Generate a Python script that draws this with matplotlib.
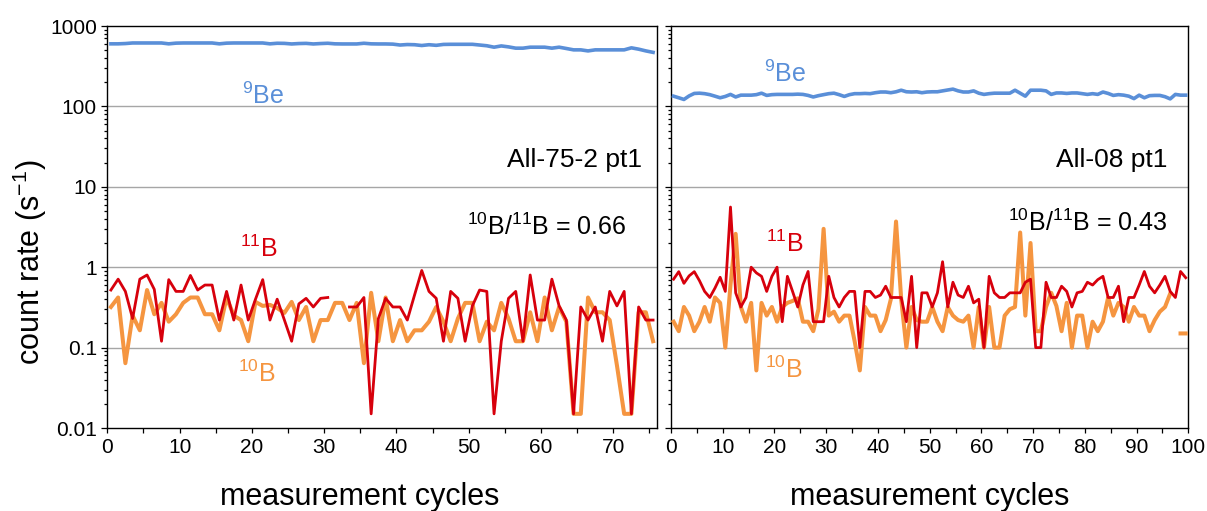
import numpy as np
import matplotlib
matplotlib.use("Agg")
import matplotlib.pyplot as plt
from matplotlib.ticker import LogLocator, FuncFormatter, MultipleLocator

plt.rcParams['font.family'] = ['Liberation Sans', 'DejaVu Sans']
plt.rcParams['mathtext.fontset'] = 'custom'
plt.rcParams['mathtext.rm'] = 'Liberation Sans'
plt.rcParams['mathtext.it'] = 'Liberation Sans'

# ---- data: All-75-2 pt1 (left panel) ----
be9_a = [600, 600, 605, 615, 615, 615, 615, 615, 600, 612,
         615, 615, 615, 615, 615, 600, 612, 615, 615, 615,
         615, 615, 600, 610, 608, 598, 605, 608, 598, 605,
         610, 600, 598, 598, 598, 610, 600, 598, 598, 595,
         580, 588, 585, 572, 585, 575, 590, 592, 592, 592,
         592, 580, 568, 545, 565, 550, 530, 530, 545, 545,
         545, 530, 545, 525, 505, 505, 490, 505, 505, 505,
         505, 505, 535, 515, 490, 470]
b11_a = [0.52, 0.71, 0.50, 0.23, 0.71, 0.80, 0.53, 0.12, 0.70, 0.50,
         0.50, 0.79, 0.52, 0.60, 0.60, 0.22, 0.50, 0.22, 0.60, 0.22,
         0.40, 0.70, 0.22, 0.40, 0.22, 0.12, 0.35,
         0.41, 0.32, 0.41, 0.42, np.nan, np.nan, 0.32, 0.32, 0.42,
         0.015, 0.23, 0.41, 0.32, 0.32, 0.22, 0.45, 0.91, 0.50, 0.41,
         0.12, 0.50, 0.41, 0.12, 0.33, 0.52, 0.50,
         0.015, 0.12, 0.41, 0.50, 0.12, 0.80, 0.22, 0.22, 0.71, 0.33,
         0.22, 0.015, 0.32, 0.22, 0.32, 0.12, 0.50, 0.33, 0.50, 0.015,
         0.32, 0.22, 0.22]
b10_a = [0.32, 0.42, 0.064, 0.25, 0.164, 0.52, 0.26, 0.36, 0.21, 0.26,
         0.36, 0.42, 0.42, 0.26, 0.26, 0.164, 0.42, 0.25, 0.22, 0.12,
         0.37, 0.33, 0.34, 0.31, 0.27, 0.37, 0.22,
         0.32, 0.12, 0.22, 0.22, 0.36, 0.36, 0.22, 0.36, 0.064, 0.48,
         0.12, 0.42, 0.12, 0.22, 0.12, 0.164, 0.164, 0.21, 0.32, 0.21,
         0.12, 0.23, 0.36, 0.36, 0.12, 0.21,
         0.164, 0.36, 0.23, 0.12, 0.12, 0.275, 0.12, 0.42, 0.164, 0.32,
         0.21, 0.015, 0.015, 0.42, 0.275, 0.275, 0.22, 0.06, 0.015, 0.015,
         0.275, 0.275, 0.12]

# ---- data: All-08 pt1 (right panel) ----
be9_b = [134, 128, 122, 135, 145, 146, 144, 140, 134, 128,
         133, 141, 131, 138, 138, 138, 140, 146, 137, 140,
         141, 141, 141, 141, 142, 141, 137, 131, 136, 140,
         144, 146, 140, 133, 140, 144, 144, 145, 144, 148,
         151, 151, 148, 152, 159, 152, 151, 152, 148, 151,
         152, 152, 156, 160, 164, 156, 151, 151, 156, 146,
         141, 144, 146, 146, 146, 146, 159, 146, 134, 159,
         159, 159, 156, 141, 147, 147, 145, 147, 147, 144,
         141, 144, 141, 151, 145, 137, 140, 138, 134, 125,
         138, 128, 136, 137, 137, 132, 124, 141, 138, 138]
b11_b = [0.71, 0.88, 0.63, 0.78, 0.88, 0.68, 0.50, 0.42, 0.55, 0.75,
         0.50, 5.6, 0.48, 0.32, 0.42, 1.0, 0.85, 0.77, 0.50, 0.77,
         1.0, 0.21, 0.77, 0.50, 0.32, 0.60, 0.885, 0.21, 0.21, 0.21,
         0.77, 0.42, 0.32, 0.42, 0.50, 0.50, 0.10, 0.50, 0.50, 0.42,
         0.45, 0.58, 0.42, 0.42, 0.42, 0.21, 0.77, 0.10, 0.48, 0.48,
         0.32, 0.48, 1.17, 0.32, 0.65, 0.45, 0.42, 0.58, 0.36, 0.40,
         0.10, 0.77, 0.48, 0.42, 0.42, 0.48, 0.48, 0.48, 0.65, 0.71,
         0.10, 0.10, 0.65, 0.42, 0.42, 0.58, 0.50, 0.32, 0.48, 0.50,
         0.65, 0.60, 0.70, 0.77, 0.42, 0.42, 0.58, 0.21, 0.42, 0.42,
         0.60, 0.885, 0.58, 0.48, 0.60, 0.77, 0.50, 0.42, 0.885, 0.74]
b10_b = [0.21, 0.16, 0.32, 0.25, 0.16, 0.21, 0.32, 0.21, 0.42, 0.36,
         0.10, 0.6, 2.6, 0.32, 0.21, 0.36, 0.052, 0.36, 0.25, 0.32,
         0.21, 0.32, 0.36, 0.38, 0.41, 0.21, 0.21, 0.16, 0.3, 3.0,
         0.25, 0.28, 0.21, 0.25, 0.25, 0.12, 0.052, 0.32, 0.25, 0.25,
         0.16, 0.22, 0.40, 3.7, 0.4, 0.10, 0.32, 0.22, 0.21, 0.21,
         0.32, 0.21, 0.16, 0.32, 0.25, 0.22, 0.21, 0.25, 0.10, 0.32,
         0.10, 0.32, 0.10, 0.10, 0.25, 0.30, 0.32, 2.7, 0.25, 2.0,
         0.16, 0.16, 0.32, 0.48, 0.33, 0.16, 0.36, 0.10, 0.25, 0.25,
         0.10, 0.21, 0.16, 0.21, 0.42, 0.25, 0.36, 0.32, 0.21, 0.32,
         0.25, 0.25, 0.16, 0.22, 0.28, 0.32, 0.47, np.nan, 0.15, 0.15]

ratio_a = "0.66"
ratio_b = "0.43"

BLUE = '#5a8fd8'
RED = '#d7000c'
ORANGE = '#f59540'
GRID = '#a6a6a6'

W, H = 1207, 511
fig = plt.figure(figsize=(W / 100, H / 100), dpi=100)
ax1 = fig.add_axes([107.3 / W, 83 / H, 549.4 / W, 402 / H])
ax2 = fig.add_axes([671 / W, 83 / H, 517.3 / W, 402 / H])


def style(ax, xmax, labels):
    ax.set_yscale('log')
    ax.set_ylim(0.01, 1000)
    ax.set_xlim(0, xmax)
    for v in [0.1, 1, 10, 100]:
        ax.axhline(v, color=GRID, lw=1.0, zorder=1)
    ax.yaxis.set_major_locator(LogLocator(base=10, numticks=10))
    ax.yaxis.set_minor_locator(LogLocator(base=10, subs=np.arange(2, 10), numticks=10))
    ax.xaxis.set_major_locator(MultipleLocator(10))
    ax.xaxis.set_minor_locator(MultipleLocator(5))
    ax.tick_params(axis='both', which='both', direction='out', labelsize=15, width=0.9)
    ax.tick_params(axis='y', which='major', length=4)
    ax.tick_params(axis='y', which='minor', length=2.5)
    ax.tick_params(axis='x', which='both', length=3.5)
    if labels:
        ax.yaxis.set_major_formatter(FuncFormatter(lambda v, _: f'{v:g}'))
    else:
        ax.set_yticklabels([])
    for s in ax.spines.values():
        s.set_color('black')
        s.set_linewidth(1.0)


def draw(ax, be, b11, b10):
    x = np.arange(len(be)) + 0.5
    ax.plot(x, be, color=BLUE, lw=2.6, zorder=3)
    ax.plot(x, b10, color=ORANGE, lw=2.9, zorder=3)
    ax.plot(x, b11, color=RED, lw=2.0, zorder=4)


style(ax1, 76, True)
style(ax2, 100, False)
draw(ax1, be9_a, b11_a, b10_a)
draw(ax2, be9_b, b11_b, b10_b)

kw = dict(ha='center', va='center', fontsize=18)
ax1.text(21.6, 135, r'$^{9}$Be', color=BLUE, **kw)
ax1.text(21.0, 1.68, r'$^{11}$B', color=RED, **kw)
ax1.text(20.7, 0.047, r'$^{10}$B', color=ORANGE, **kw)
ax1.text(74.0, 21.5, 'All-75-2 pt1', ha='right', va='center', fontsize=19)
ax1.text(71.8, 3.2, r'$^{10}$B/$^{11}$B = ' + ratio_a, ha='right', va='center', fontsize=18)

ax2.text(22.0, 253, r'$^{9}$Be', color=BLUE, **kw)
ax2.text(22.0, 1.94, r'$^{11}$B', color=RED, **kw)
ax2.text(21.9, 0.053, r'$^{10}$B', color=ORANGE, **kw)
ax2.text(96.0, 21.5, 'All-08 pt1', ha='right', va='center', fontsize=19)
ax2.text(96.0, 3.55, r'$^{10}$B/$^{11}$B = ' + ratio_b, ha='right', va='center', fontsize=18)

fig.text(30 / W, 1 - 262 / H, r'count rate (s$^{-1}$)', rotation=90,
         ha='center', va='center', fontsize=22)
fig.text(360 / W, 1 - 497 / H, 'measurement cycles', ha='center', va='center', fontsize=22)
fig.text(930 / W, 1 - 497 / H, 'measurement cycles', ha='center', va='center', fontsize=22)

fig.savefig('out.png', dpi=100)
